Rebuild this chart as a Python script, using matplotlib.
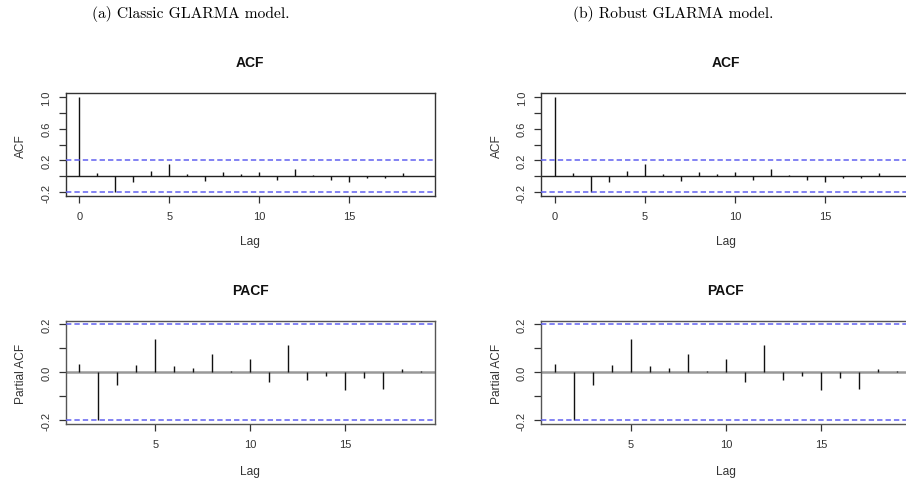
import matplotlib
matplotlib.use('Agg')
import matplotlib.pyplot as plt
import numpy as np

# values (same for both models)
acf_lags = np.arange(0, 20)
acf_vals = [1.0, 0.043, -0.204, -0.068, 0.068, 0.157, 0.026, -0.055, 0.055, 0.026,
            0.055, -0.043, 0.094, 0.021, -0.043, -0.068, -0.017, -0.017, 0.047, 0.003]
pacf_lags = np.arange(1, 20)
pacf_vals = [0.036, -0.200, -0.053, 0.031, 0.137, 0.024, 0.018, 0.075, 0.004, 0.053,
             -0.042, 0.113, -0.034, -0.014, -0.076, -0.024, -0.069, 0.015, 0.004]
ci = 0.2
captions = ['(a) Classic GLARMA model.', '(b) Robust GLARMA model.']

W, H = 906, 481
fig = plt.figure(figsize=(W / 100, H / 100), dpi=100)

def box(x0, y0, x1, y1):
    # pixel box -> figure fraction rect
    return [x0 / W, 1 - y1 / H, (x1 - x0) / W, (y1 - y0) / H]

def style(ax, frame):
    for s in ax.spines.values():
        s.set_color(frame)
        s.set_linewidth(1.0)
    ax.tick_params(direction='out', length=4.8, width=0.9, color='#333333',
                   labelsize=8, pad=5.5, labelcolor='#333333')
    ax.tick_params(axis='y', labelrotation=90)
    for lab in ax.get_yticklabels():
        lab.set_va('center')

def plot_acf(ax, lags, vals, ylim, yticks, ylabels, xticks, zcol, zlw, title, ylab, xlab_y):
    ax.axhline(0, color=zcol, lw=zlw, zorder=1)
    ax.vlines(lags, 0, vals, color='#111111', lw=1.0, zorder=2)
    for c in (ci, -ci):
        ax.axhline(c, color='#6060f0', lw=1.1, ls=(0, (3.5, 2)), zorder=3)
    ax.set_xlim(lags[0] - 0.04 * (lags[-1] - lags[0]), lags[-1] + 0.04 * (lags[-1] - lags[0]))
    ax.set_ylim(*ylim)
    ax.set_yticks(yticks)
    ax.set_yticklabels(ylabels)
    ax.set_xticks(xticks)
    ax.set_title(title, fontsize=10, fontweight='bold', pad=19.5, color='#111111')
    ax.set_xlabel('Lag', fontsize=8.6, color='#333333')
    ax.set_ylabel(ylab, fontsize=8.6, color='#333333')
    ax.xaxis.set_label_coords(0.5, xlab_y)
    ax.yaxis.set_label_coords(-0.105, 0.5)

plt.rcParams['font.family'] = ['Liberation Sans', 'DejaVu Sans']

offsets = [0, 475.6]
centers = [191, 673]
for k in range(2):
    dx = offsets[k]
    ax1 = fig.add_axes(box(65.7 + dx, 94, 435 + dx, 197.3))
    plot_acf(ax1, acf_lags, acf_vals, (-0.253, 1.05),
             [-0.2, 0.0, 0.2, 0.4, 0.6, 0.8, 1.0],
             ['-0.2', '', '0.2', '', '0.6', '', '1.0'],
             [0, 5, 10, 15], '#222222', 1.0, 'ACF', 'ACF', -0.372)
    style(ax1, '#333333')

    ax2 = fig.add_axes(box(65.7 + dx, 322, 435 + dx, 425.3))
    plot_acf(ax2, pacf_lags, pacf_vals, (-0.2165, 0.2128),
             [-0.2, -0.1, 0.0, 0.1, 0.2],
             ['-0.2', '', '0.0', '', '0.2'],
             [5, 10, 15], '#999999', 1.8, 'PACF', 'Partial ACF', -0.392)
    style(ax2, '#555555')

    fig.text(centers[k] / W, 1 - 14 / H, captions[k], ha='center', va='center',
             fontsize=11.2, family='cmr10')

fig.savefig('out.png', dpi=100)
